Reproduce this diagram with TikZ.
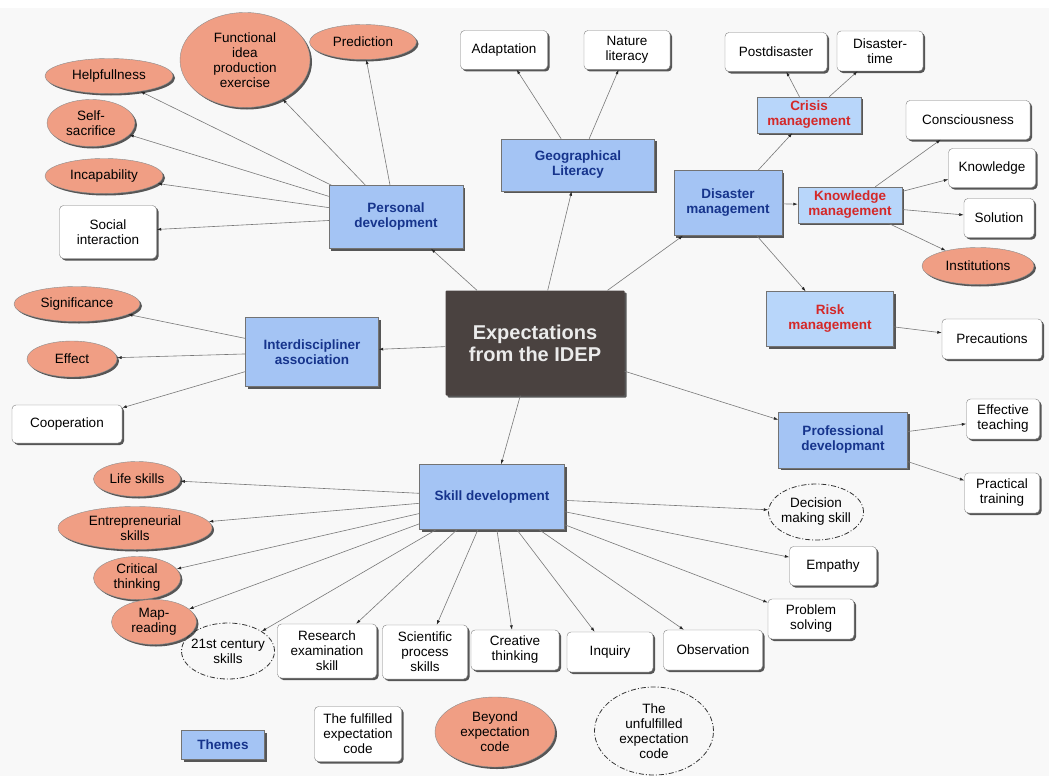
\documentclass[tikz,border=0pt]{standalone}
\usepackage{fontspec}
\setmainfont{Liberation Sans}
\usetikzlibrary{shapes.geometric,shadows,arrows.meta}

\definecolor{themeblue}{RGB}{164,196,244}
\definecolor{subblue}{RGB}{184,214,250}
\definecolor{themeink}{RGB}{22,52,140}
\definecolor{subink}{RGB}{212,40,40}
\definecolor{salmon}{RGB}{240,158,132}
\definecolor{coregray}{RGB}{74,66,64}
\definecolor{paper}{RGB}{248,248,248}
\definecolor{linkgray}{RGB}{120,120,120}

\tikzset{
    every node/.style={font=\fontsize{13.5}{15}\selectfont, align=center, inner sep=0pt},
    wh/.style 2 args={minimum width=#1, minimum height=#2},
    boxshadow/.style={drop shadow={shadow xshift=2pt, shadow yshift=-2pt, fill=black, opacity=0.65}},
    core/.style={rectangle, rounded corners=1pt, fill=coregray, text=white!92!black,
        font=\fontsize{20}{22}\selectfont\bfseries, boxshadow},
    theme/.style={rectangle, draw=black!55, fill=themeblue, text=themeink,
        font=\fontsize{13.5}{15}\selectfont\bfseries, boxshadow},
    subtheme/.style={theme, fill=subblue, text=subink},
    fulfilled/.style={rectangle, rounded corners=4pt, draw=black!50, fill=white, boxshadow},
    beyond/.style={ellipse, draw=black!45, fill=salmon, boxshadow},
    unfulfilled/.style={ellipse, draw=black!80, line width=0.8pt,
        dash pattern=on 5pt off 2pt on 1pt off 2pt, inner xsep=-5pt},
    link/.style={draw=linkgray, line width=0.6pt, -{Latex[length=4.5pt,width=3pt,color=black!85]}}
}

\begin{document}
\begin{tikzpicture}[x=1pt,y=-1pt]
    \fill[paper] (0,0) rectangle (1049,776);
    \fill[white] (0,0) rectangle (1049,8);
    \useasboundingbox (0,0) rectangle (1049,776);

    % centre and themes
    \node[core, wh={179pt}{105pt}] (c) at (535,343) {Expectations\\from the IDEP};
    \node[theme, wh={134pt}{63pt}] (pd) at (396,217) {Personal\\development};
    \node[theme, wh={153pt}{52pt}] (gl) at (578,165) {Geographical\\Literacy};
    \node[theme, wh={108pt}{65pt}] (dm) at (728,203) {Disaster\\management};
    \node[theme, wh={133pt}{69pt}] (ia) at (312,352) {Interdiscipliner\\association};
    \node[theme, wh={145pt}{65pt}] (sd) at (492,497) {Skill development};
    \node[theme, wh={129pt}{56pt}] (pf) at (843,440) {Professional\\developmant};

    \node[subtheme, wh={104pt}{36pt}] (cm) at (809,115) {Crisis\\management};
    \node[subtheme, wh={104pt}{36pt}] (km) at (850,205) {Knowledge\\management};
    \node[subtheme, wh={127pt}{55pt}] (rm) at (830,319) {Risk\\management};

    % personal development
    \node[beyond, wh={130pt}{95pt}] (func) at (245,60) {Functional\\idea\\production\\exercise};
    \node[beyond, wh={107pt}{35pt}] (pred) at (363,42) {Prediction};
    \node[beyond, wh={128pt}{35pt}] (help) at (109,76) {Helpfullness};
    \node[beyond, wh={88pt}{47pt}] (self) at (91,123) {Self-\\sacrifice};
    \node[beyond, wh={118pt}{35pt}] (incap) at (104,176) {Incapability};
    \node[fulfilled, wh={97pt}{53pt}] (soc) at (108,232) {Social\\interaction};

    % geographical literacy
    \node[fulfilled, wh={87pt}{39pt}] (adapt) at (504,50) {Adaptation};
    \node[fulfilled, wh={86pt}{39pt}] (natlit) at (627,50) {Nature\\literacy};

    % disaster management
    \node[fulfilled, wh={102pt}{39pt}] (post) at (776,52) {Postdisaster};
    \node[fulfilled, wh={86pt}{40pt}] (dtime) at (880,51) {Disaster-\\time};
    \node[fulfilled, wh={124pt}{39pt}] (consc) at (968,120) {Consciousness};
    \node[fulfilled, wh={87pt}{39pt}] (know) at (992,168) {Knowledge};
    \node[fulfilled, wh={70pt}{39pt}] (sol) at (999,218) {Solution};
    \node[beyond, wh={112pt}{37pt}] (inst) at (978,266) {Institutions};
    \node[fulfilled, wh={100pt}{40pt}] (prec) at (992,339) {Precautions};

    % interdisciplinary association
    \node[beyond, wh={126pt}{35pt}] (sig) at (77,304) {Significance};
    \node[beyond, wh={90pt}{36pt}] (eff) at (72,359) {Effect};
    \node[fulfilled, wh={110pt}{38pt}] (coop) at (67,424) {Cooperation};

    % professional development
    \node[fulfilled, wh={73pt}{40pt}] (efft) at (1003,419) {Effective\\teaching};
    \node[fulfilled, wh={75pt}{40pt}] (prac) at (1002,493) {Practical\\training};

    % skill development
    \node[beyond, wh={87pt}{35pt}] (life) at (137,479) {Life skills};
    \node[beyond, wh={154pt}{43pt}] (entre) at (135,528) {Entrepreneurial\\skills};
    \node[beyond, wh={87pt}{43pt}] (crit) at (137,578) {Critical\\thinking};
    \node[beyond, wh={85pt}{45pt}] (map) at (154,622) {Map-\\reading};
    \node[unfulfilled, wh={93pt}{56pt}] (cent) at (228,651) {21st century\\skills};
    \node[fulfilled, wh={99pt}{54pt}] (res) at (327,651) {Research\\examination\\skill};
    \node[fulfilled, wh={85pt}{54pt}] (sci) at (425,652) {Scientific\\process\\skills};
    \node[fulfilled, wh={88pt}{40pt}] (creat) at (515,650) {Creative\\thinking};
    \node[fulfilled, wh={86pt}{40pt}] (inq) at (610,652) {Inquiry};
    \node[fulfilled, wh={99pt}{40pt}] (obs) at (713,650) {Observation};
    \node[fulfilled, wh={86pt}{40pt}] (prob) at (811,619) {Problem\\solving};
    \node[fulfilled, wh={87pt}{39pt}] (emp) at (833,566) {Empathy};
    \node[unfulfilled, wh={95pt}{56pt}] (dec) at (816,512) {Decision\\making skill};

    % legend
    \node[theme, wh={83pt}{29pt}] (lgtheme) at (223,745) {Themes};
    \node[fulfilled, wh={87pt}{55pt}] (lgful) at (358,734) {The fulfilled\\expectation\\code};
    \node[beyond, wh={120pt}{70pt}] (lgbey) at (495,732) {Beyond\\expectation\\code};
    \node[unfulfilled, inner xsep=0pt, wh={119pt}{88pt}] (lgunf) at (654,731) {The\\unfulfilled\\expectation\\code};

    % connectors
    \foreach \t in {pd, gl, dm, ia, sd, pf}
        \draw[link] (c) -- (\t);
    \foreach \t in {func, pred, help, self, incap, soc}
        \draw[link] (pd) -- (\t);
    \foreach \t in {adapt, natlit}
        \draw[link] (gl) -- (\t);
    \foreach \t in {cm, km, rm}
        \draw[link] (dm) -- (\t);
    \foreach \t in {post, dtime}
        \draw[link] (cm) -- (\t);
    \foreach \t in {consc, know, sol, inst}
        \draw[link] (km) -- (\t);
    \draw[link] (rm) -- (prec);
    \foreach \t in {sig, eff, coop}
        \draw[link] (ia) -- (\t);
    \foreach \t in {efft, prac}
        \draw[link] (pf) -- (\t);
    \foreach \t in {life, entre, crit, map, cent, res, sci, creat, inq, obs, prob, emp, dec}
        \draw[link] (sd) -- (\t);
\end{tikzpicture}
\end{document}
